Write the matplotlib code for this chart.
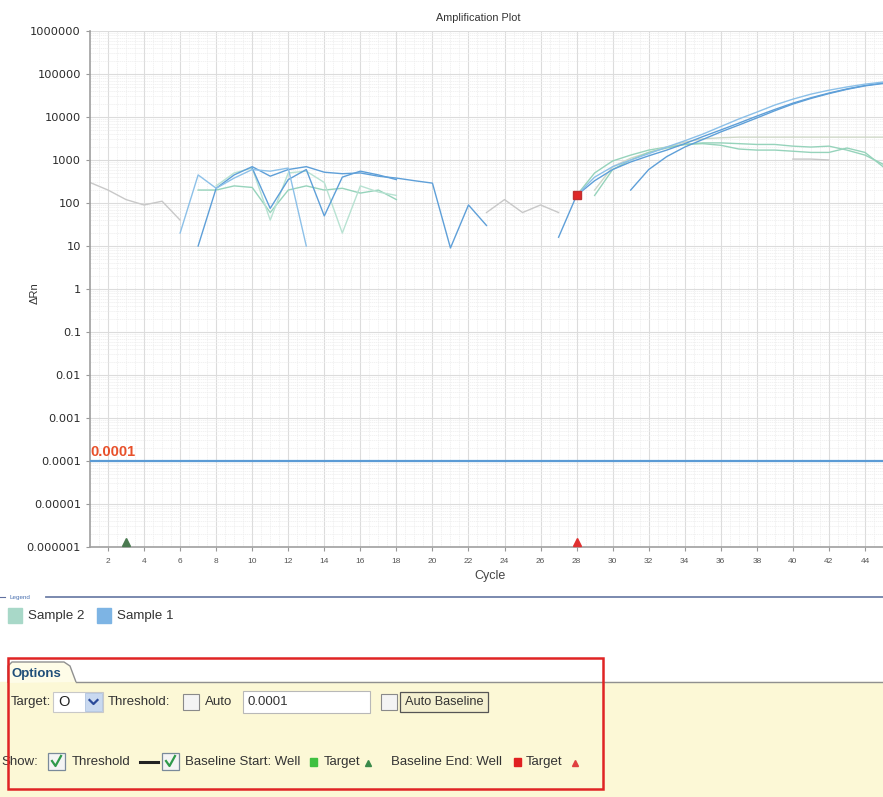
import numpy as np
import matplotlib
matplotlib.use("Agg")
import matplotlib.pyplot as plt
from matplotlib.patches import Rectangle, Polygon
from matplotlib.ticker import LogLocator, NullFormatter

plt.rcParams['font.family'] = ['Liberation Sans', 'DejaVu Sans']

# ---- amplification data (cycle, delta Rn) ----
# Sample 1 wells (blue)
s1_a_early_cyc = [7, 8, 9, 10, 11, 12, 13, 14, 15, 16, 17, 18, 19, 20, 21, 22, 23]
s1_a_early_val = [10, 220, 450, 700, 420, 600, 700, 520, 480, 500, 420, 380, 330, 290, 9, 90, 30]
s1_a_late_cyc = [27, 28, 29, 30, 31, 32, 33, 34, 35, 36, 37, 38, 39, 40, 41, 42, 43, 44, 45]
s1_a_late_val = [16, 150, 330, 600, 900, 1250, 1700, 2400, 3500, 5000, 7200, 10500, 15000,
                 21000, 28000, 36000, 45000, 54000, 62000]

s1_b_early_cyc = [10, 11, 12, 13, 14, 15, 16, 17, 18]
s1_b_early_val = [650, 75, 350, 600, 50, 400, 550, 450, 350]
s1_b_late_cyc = [31, 32, 33, 34, 35, 36, 37, 38, 39, 40, 41, 42, 43, 44, 45]
s1_b_late_val = [200, 600, 1200, 2000, 3000, 4500, 6500, 9500, 14000, 20000, 27000, 35000,
                 44000, 53000, 60000]

s1_c_early_cyc = [6, 7, 8, 9, 10, 11, 12, 13]
s1_c_early_val = [20, 450, 220, 380, 600, 550, 650, 10]
s1_c_late_cyc = [28, 29, 30, 31, 32, 33, 34, 35, 36, 37, 38, 39, 40, 41, 42, 43, 44, 45]
s1_c_late_val = [150, 400, 700, 1000, 1400, 2000, 2800, 4000, 6000, 9000, 13000, 19000,
                 26000, 34000, 42000, 50000, 58000, 65000]

# Sample 2 wells (green)
s2_a_early_cyc = [7, 8, 9, 10, 11, 12, 13, 14, 15, 16, 17, 18]
s2_a_early_val = [200, 200, 250, 230, 60, 200, 250, 200, 220, 170, 200, 120]
s2_a_late_cyc = [28, 29, 30, 31, 32, 33, 34, 35, 36, 37, 38, 39, 40, 41, 42, 43, 44, 45]
s2_a_late_val = [150, 500, 950, 1300, 1700, 2000, 2300, 2400, 2200, 1800, 1700, 1700, 1600,
                 1500, 1500, 1900, 1500, 700]

s2_b_early_cyc = [8, 9, 10, 11, 12, 13, 14, 15, 16, 17, 18]
s2_b_early_val = [250, 500, 650, 40, 500, 550, 300, 20, 250, 180, 150]
s2_b_late_cyc = [29, 30, 31, 32, 33, 34, 35, 36, 37, 38, 39, 40, 41, 42, 43, 44, 45]
s2_b_late_val = [200, 700, 1100, 1500, 2000, 2600, 3100, 3300, 3400, 3400, 3400, 3400, 3400,
                 3400, 3400, 3400, 3400]

s2_c_late_cyc = [29, 30, 31, 32, 33, 34, 35, 36, 37, 38, 39, 40, 41, 42, 43, 44, 45]
s2_c_late_val = [150, 600, 1000, 1500, 1900, 2300, 2500, 2500, 2400, 2300, 2300, 2100, 2000,
                 2100, 1700, 1300, 800]

# baseline noise fragments (grey)
grey_a_cyc = [1, 2, 3, 4, 5, 6]
grey_a_val = [300, 200, 120, 90, 110, 40]
grey_b_cyc = [23, 24, 25, 26, 27]
grey_b_val = [60, 120, 60, 90, 60]
grey_c_cyc = [40, 41, 42]
grey_c_val = [1050, 1050, 1000]

threshold = 0.0001
baseline_start_cycle = 3
baseline_end_cycle = 28
baseline_end_value = 150

ytick_vals = [1e-6, 1e-5, 1e-4, 1e-3, 1e-2, 1e-1, 1, 10, 100, 1000, 10000, 100000, 1000000]
ytick_text = ['0.000001', '0.00001', '0.0001', '0.001', '0.01', '0.1', '1', '10', '100',
              '1000', '10000', '100000', '1000000']
xtick_vals = list(range(2, 46, 2))

legend_names = ['Sample 2', 'Sample 1']
legend_colors = ['#a8d8c8', '#7db4e4']

W, H = 883, 797
fig = plt.figure(figsize=(W / 100, H / 100), dpi=100)

# background layer in pixel units for the window furniture
ui = fig.add_axes([0, 0, 1, 1])
ui.set_xlim(0, W)
ui.set_ylim(H, 0)
ui.axis('off')

# ---- main plot ----
ax = fig.add_axes([90 / W, 1 - 547 / H, (W - 90) / W, (547 - 31) / H])
ax.set_yscale('log')
ax.set_ylim(1e-6, 1e6)
ax.set_xlim(1, 44.85)

blue = '#5e9fd8'
blue_l = '#8cc0e8'
green = '#96d3bb'
green_l = '#b8e2d2'
grey = '#c8c8c8'

lw = 1.0
for c, v, col in [(s1_a_early_cyc, s1_a_early_val, blue), (s1_a_late_cyc, s1_a_late_val, blue),
                  (s1_b_early_cyc, s1_b_early_val, blue), (s1_b_late_cyc, s1_b_late_val, blue),
                  (s1_c_early_cyc, s1_c_early_val, blue_l), (s1_c_late_cyc, s1_c_late_val, blue_l)]:
    ax.plot(c, v, color=col, lw=lw, zorder=4)
for c, v, col in [(s2_a_early_cyc, s2_a_early_val, green), (s2_a_late_cyc, s2_a_late_val, green),
                  (s2_b_early_cyc, s2_b_early_val, green_l), (s2_b_late_cyc, s2_b_late_val, '#cfd8c8'),
                  (s2_c_late_cyc, s2_c_late_val, green)]:
    ax.plot(c, v, color=col, lw=lw, zorder=3)
for c, v in [(grey_a_cyc, grey_a_val), (grey_b_cyc, grey_b_val), (grey_c_cyc, grey_c_val)]:
    ax.plot(c, v, color=grey, lw=lw, zorder=2)

# threshold line and label
ax.axhline(threshold, color='#5b9bd5', lw=1.6, zorder=5)
ax.text(1.0, threshold * 1.12, '0.0001', color='#e8502a', fontsize=10.5, fontweight='bold',
        va='bottom', ha='left', zorder=6)

# baseline markers
ax.plot([baseline_end_cycle], [baseline_end_value], marker='s', ms=6, color='#e02828',
        mec='#c03030', zorder=7)
ax.plot([baseline_start_cycle], [1.3e-6], marker='^', ms=6, color='#4a7a50', clip_on=False, zorder=7)
ax.plot([baseline_end_cycle], [1.3e-6], marker='^', ms=6, color='#e03030', clip_on=False, zorder=7)

ax.set_yticks(ytick_vals)
ax.set_yticklabels(ytick_text)
ax.yaxis.set_minor_locator(LogLocator(base=10, subs=np.arange(2, 10), numticks=200))
ax.yaxis.set_minor_formatter(NullFormatter())
ax.set_xticks(xtick_vals)
ax.set_xticks(np.arange(1, 45.5, 0.5), minor=True)
ax.tick_params(axis='y', labelsize=8.2, labelcolor='#2a2a2a', length=3, color='#999999')
ax.tick_params(axis='x', labelsize=6, labelcolor='#555555', length=3, color='#999999', pad=5)
ax.tick_params(which='minor', length=0)
for lab in ax.get_yticklabels():
    lab.set_family('DejaVu Sans')
ax.grid(True, which='major', color='#dcdcdc', lw=0.8)
ax.grid(True, which='minor', color='#ededed', lw=0.5, ls=(0, (2, 1)))
for s in ['top', 'right']:
    ax.spines[s].set_visible(False)
for s in ['left', 'bottom']:
    ax.spines[s].set_color('#a0a0a0')
    ax.spines[s].set_linewidth(1.2)

fig.text(478 / W, 1 - 18 / H, 'Amplification Plot', fontsize=7.8, ha='center', va='center',
         color='#333333')
fig.text(35 / W, 1 - 293 / H, 'ΔRn', fontsize=8, rotation=90, ha='center', va='center',
         color='#333333')
fig.text(490 / W, 1 - 576 / H, 'Cycle', fontsize=9, ha='center', va='center', color='#444444')

# ---- legend strip ----
ui.plot([0, 5], [597, 597], color='#6070a0', lw=0.8)
ui.text(9, 597, 'Legend', fontsize=4.5, color='#4a70b0', va='center')
ui.plot([46, W], [597, 597], color='#7080a8', lw=1.3)
lx = [8, 97]
for i in range(len(legend_names)):
    ui.add_patch(Rectangle((lx[i], 608), 14, 15, color=legend_colors[i]))
    ui.text(lx[i] + 20, 616, legend_names[i], fontsize=9.6, va='center', color='#333333')

# ---- options panel ----
cream = '#fcf8d6'
ui.add_patch(Rectangle((0, 682), W, H - 682, color=cream, zorder=0))
ui.add_patch(Polygon([(8, 683), (8, 666), (12, 662), (64, 662), (70, 666), (76, 682)],
                     closed=False, facecolor='#fefce8', edgecolor='#909090', lw=1.0))
ui.plot([76, W], [682, 682], color='#909090', lw=1.0)
ui.text(12, 674, 'Options', fontsize=9.5, fontweight='bold', color='#1f4e79', va='center')

ty = 702
txt = dict(fontsize=9.5, va='center', color='#333333')
ui.text(11, ty, 'Target:', **txt)
ui.add_patch(Rectangle((53, 692), 50, 20, facecolor='white', edgecolor='#c8c8c8', lw=0.8))
ui.text(58, ty, 'O', fontsize=10.5, va='center', color='#222222')
ui.add_patch(Rectangle((85, 693), 17, 18, facecolor='#c9d9f0', edgecolor='#b0c4e0', lw=0.6))
ui.plot([89.5, 93.5, 97.5], [700, 704, 700], color='#2a4a9a', lw=1.6)
ui.text(108, ty, 'Threshold:', **txt)
ui.add_patch(Rectangle((183, 694), 16, 16, facecolor='#f4f4f4', edgecolor='#8a8a8a', lw=0.8))
ui.text(205, ty, 'Auto', **txt)
ui.add_patch(Rectangle((243, 691), 127, 22, facecolor='white', edgecolor='#b8b8b8', lw=0.8))
ui.text(248, ty, '0.0001', **txt)
ui.add_patch(Rectangle((381, 694), 16, 16, facecolor='#f4f4f4', edgecolor='#8a8a8a', lw=0.8))
ui.add_patch(Rectangle((400, 692), 88, 20, facecolor='#f4f0d0', edgecolor='#555555', lw=0.9))
ui.text(444, ty, 'Auto Baseline', ha='center', fontsize=9.2, va='center', color='#333333')

ry = 762
ui.text(1, ry, 'Show:', **txt)
for bx in [48, 162]:
    ui.add_patch(Rectangle((bx, 753), 17, 17, facecolor='#f4f4f4', edgecolor='#7a8a9a', lw=0.9))
    ui.plot([bx + 4, bx + 7.5, bx + 13], [761, 766, 756], color='#2f9a4a', lw=1.6)
ui.text(72, ry, 'Threshold', **txt)
ui.plot([140, 158], [ry, ry], color='#222222', lw=2.2)
ui.text(185, ry, 'Baseline Start: Well', **txt)
ui.add_patch(Rectangle((310, 758), 7, 8, color='#3fc040'))
ui.text(324, ry, 'Target', **txt)
ui.plot([368], [ry + 1], marker='^', ms=5, color='#3a8a4a')
ui.text(391, ry, 'Baseline End: Well', **txt)
ui.add_patch(Rectangle((514, 758), 7, 8, color='#e02020'))
ui.text(526, ry, 'Target', **txt)
ui.plot([575], [ry + 1], marker='^', ms=5, color='#e04040')

ui.add_patch(Rectangle((8, 658), 595, 131, fill=False, edgecolor='#e02424', lw=1.8, zorder=10))

fig.savefig('out.png', dpi=100)
